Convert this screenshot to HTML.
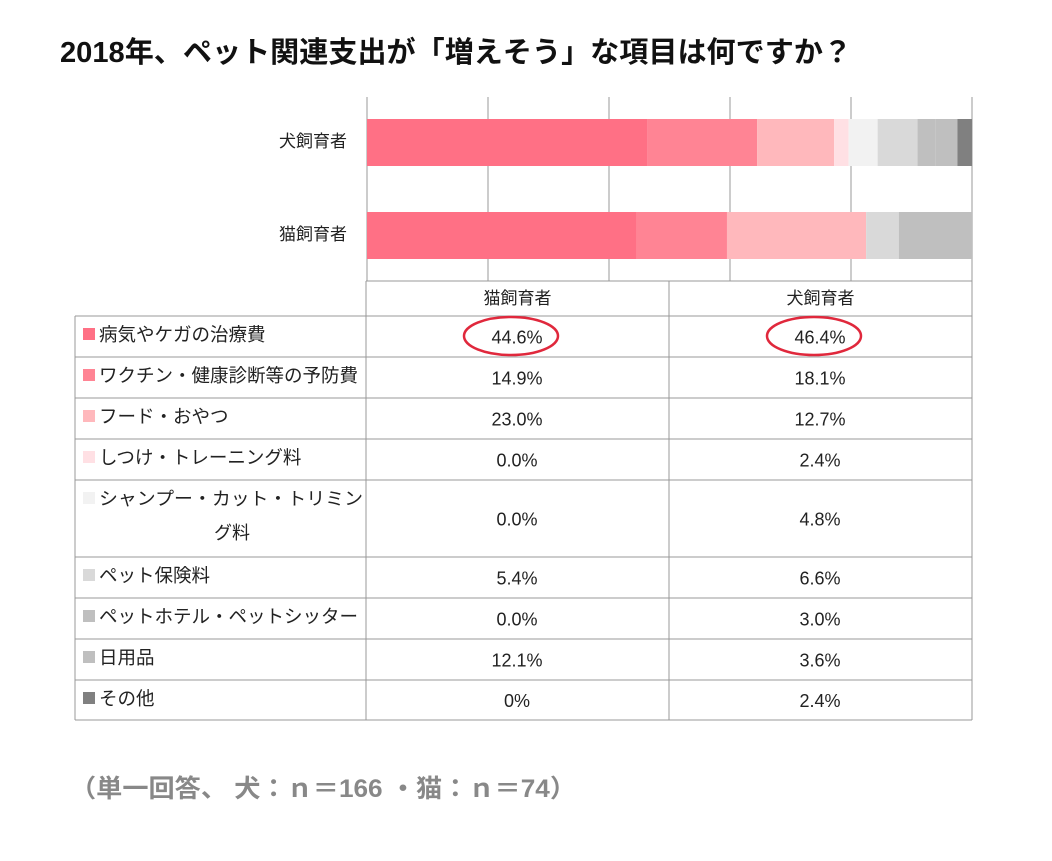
<!DOCTYPE html>
<html><head><meta charset="utf-8"><style>
body{margin:0;background:#fff;font-family:"Liberation Sans","Noto Sans CJK JP",sans-serif;}
svg text{font-family:"Liberation Sans","Noto Sans CJK JP",sans-serif;}
</style></head><body>
<svg id="c" width="1052" height="856" xmlns="http://www.w3.org/2000/svg">
<text x="60" y="62" font-size="29" font-weight="bold" fill="#111" textLength="792" lengthAdjust="spacingAndGlyphs">2018年、ペット関連支出が「増えそう」な項目は何ですか？</text>
<g id="grid"></g><g id="bars"></g><g id="table"></g>
<text x="70" y="797" font-size="25" font-weight="bold" fill="#888" textLength="506" lengthAdjust="spacingAndGlyphs">（単一回答、 犬：ｎ＝166 ・猫：ｎ＝74）</text>
</svg>
<script>
const categories=["病気やケガの治療費","ワクチン・健康診断等の予防費","フード・おやつ","しつけ・トレーニング料","シャンプー・カット・トリミング料","ペット保険料","ペットホテル・ペットシッター","日用品","その他"];
const groups=["犬飼育者","猫飼育者"];
const dogValues=[46.4,18.1,12.7,2.4,4.8,6.6,3.0,3.6,2.4];
const catValues=[44.6,14.9,23.0,0.0,0.0,5.4,0.0,12.1,0];
const catLabels=["44.6%","14.9%","23.0%","0.0%","0.0%","5.4%","0.0%","12.1%","0%"];
const dogLabels=["46.4%","18.1%","12.7%","2.4%","4.8%","6.6%","3.0%","3.6%","2.4%"];
const ticks=[0,20,40,60,80,100];
const colors=["#FF7085","#FF8494","#FFB8BC","#FFE0E4","#F2F2F2","#D9D9D9","#BFBFBF","#BFBFBF","#808080"];
const NS="http://www.w3.org/2000/svg";
const x0=367,x1=972;
const xs=v=>x0+v/100*(x1-x0);
function mk(tag,attrs,parent){const e=document.createElementNS(NS,tag);for(const k in attrs)e.setAttribute(k,attrs[k]);parent.appendChild(e);return e;}
const grid=document.getElementById('grid'),bars=document.getElementById('bars'),tbl=document.getElementById('table');
ticks.forEach(t=>{const l=mk('line',{x1:xs(t),x2:xs(t),y1:97,y2:281,stroke:'#999','stroke-width':1},grid);

});
const series=[dogValues,catValues];const barY=[119,212];
series.forEach((vals,gi)=>{let acc=0;
 const lab=mk('text',{x:347,y:barY[gi]+28,'font-size':17,'text-anchor':'end',fill:'#222'},bars);lab.textContent=groups[gi];
 
 
 vals.forEach((v,i)=>{if(v<=0)return;const r=mk('rect',{x:xs(acc),y:barY[gi],width:xs(acc+v)-xs(acc),height:47,fill:colors[i]},bars);
 
 acc+=v;});});
const rows=[316,357,398,439,480,557,598,639,680,720];
const cols=[75,366,669,972];
const L='#999';
mk('line',{x1:366,x2:972,y1:281,y2:281,stroke:L},tbl);
rows.forEach(y=>mk('line',{x1:75,x2:972,y1:y,y2:y,stroke:L},tbl));
mk('line',{x1:75,x2:75,y1:316,y2:720,stroke:L},tbl);
[366,669,972].forEach(x=>mk('line',{x1:x,x2:x,y1:281,y2:720,stroke:L},tbl));
["猫飼育者","犬飼育者"].forEach((h,i)=>{const t=mk('text',{x:(cols[i+1]+cols[i+2])/2,y:304,'font-size':17,'text-anchor':'middle',fill:'#222'},tbl);t.textContent=h;

});
categories.forEach((c,i)=>{const yt=rows[i],yb=rows[i+1],ym=(yt+yb)/2+6;
 const sq=mk('rect',{x:83,y:yt+12,width:12,height:12,fill:colors[i]},tbl);
 
 
 if(i===4){const a=mk('text',{x:99,y:yt+25,'font-size':18,fill:'#222',textLength:264,lengthAdjust:'spacingAndGlyphs'},tbl);a.textContent="シャンプー・カット・トリミン";
  const b=mk('text',{x:232,y:yt+59,'font-size':18,'text-anchor':'middle',fill:'#222'},tbl);b.textContent="グ料";
  
  }
 else{const a=mk('text',{x:99,y:yt+25,'font-size':18.5,fill:'#222'},tbl);a.textContent=c;
  
  }
 const t1=mk('text',{x:517,y:ym+1,'font-size':18,'text-anchor':'middle',fill:'#222'},tbl);t1.textContent=catLabels[i];
 
 
 const t2=mk('text',{x:820,y:ym+1,'font-size':18,'text-anchor':'middle',fill:'#222'},tbl);t2.textContent=dogLabels[i];
 
 
});
[517,820].forEach((cx,i)=>{const e=mk('ellipse',{cx:cx-6,cy:336,rx:47,ry:19,fill:'none',stroke:'#E0283C','stroke-width':2.5},tbl);

});
</script>
</body></html>
